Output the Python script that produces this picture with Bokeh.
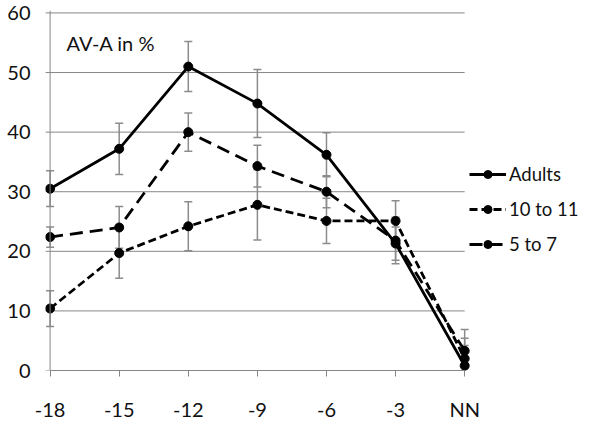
from bokeh.plotting import figure
from bokeh.models import (Range1d, FixedTicker, Whisker, TeeHead, ColumnDataSource,
                          Legend, LegendItem, Span, Label)
from bokeh.embed import file_html
from bokeh.resources import INLINE

# ---- data ----
categories = ["-18", "-15", "-12", "-9", "-6", "-3", "NN"]
adults = [30.5, 37.2, 51.0, 44.8, 36.2, 21.3, 0.8]
adults_err = [3.0, 4.3, 4.2, 5.7, 3.7, 2.8, 3.4]
age10_11 = [10.4, 19.7, 24.2, 27.8, 25.1, 25.1, 2.0]
age10_11_err = [3.0, 4.2, 4.1, 5.9, 3.8, 3.4, 3.4]
age5_7 = [22.4, 24.0, 40.0, 34.3, 30.0, 21.8, 3.3]
age5_7_err = [1.7, 3.5, 3.2, 3.5, 2.7, 3.9, 3.6]
y_ticks = [0, 10, 20, 30, 40, 50, 60]
title_text = "AV-A in %"

FONT = "Lato"
GRID = "#878787"
ERR = "#8c8c8c"
TXT = "#111111"

xs = list(range(len(categories)))
last = xs[-1]

p = figure(width=588, height=423, output_backend="svg", toolbar_location=None,
           x_range=Range1d(-0.0666, 7.792), y_range=Range1d(0, 60.41),
           min_border_left=45, min_border_right=0, min_border_top=10,
           min_border_bottom=48)
p.outline_line_color = None
p.xgrid.visible = False
p.ygrid.visible = False

# horizontal gridlines (with a short outward tick on the left)
p.segment(x0=[-0.07] * len(y_ticks), x1=[last] * len(y_ticks), y0=y_ticks, y1=y_ticks,
          line_color=GRID, line_width=1)
# vertical axis line at the first category
p.add_layout(Span(location=xs[0], dimension="height", line_color=GRID, line_width=1))

# x axis
p.xaxis.ticker = FixedTicker(ticks=xs)
p.xaxis.major_label_overrides = {i: c for i, c in zip(xs, categories)}
p.xaxis.bounds = (xs[0], last)
p.xaxis.axis_line_color = GRID
p.xaxis.major_tick_line_color = GRID
p.xaxis.major_tick_out = 6
p.xaxis.major_tick_in = 0
p.xaxis.minor_tick_line_color = None
p.xaxis.major_label_standoff = 20
p.xaxis.major_label_text_font = FONT
p.xaxis.major_label_text_font_size = "20px"
p.xaxis.major_label_text_color = TXT

# y axis
p.yaxis.ticker = FixedTicker(ticks=y_ticks)
p.yaxis.axis_line_color = None
p.yaxis.major_tick_line_color = None
p.yaxis.major_tick_out = 0
p.yaxis.major_tick_in = 0
p.yaxis.minor_tick_line_color = None
p.yaxis.major_label_standoff = 15
p.yaxis.major_label_text_font = FONT
p.yaxis.major_label_text_font_size = "20px"
p.yaxis.major_label_text_color = TXT

series = [
    ("Adults", adults, adults_err, "solid"),
    ("10 to 11", age10_11, age10_11_err, "8 4"),
    ("5 to 7", age5_7, age5_7_err, "13 7"),
]

# error bars first
for name, vals, errs, dash in series:
    src = ColumnDataSource(dict(x=xs, upper=[v + e for v, e in zip(vals, errs)],
                                lower=[v - e for v, e in zip(vals, errs)]))
    w = Whisker(source=src, base="x", upper="upper", lower="lower",
                line_color=ERR, line_width=1.5,
                upper_head=TeeHead(size=8, line_color=ERR, line_width=1.5),
                lower_head=TeeHead(size=8, line_color=ERR, line_width=1.5))
    p.add_layout(w)

items = []
for name, vals, errs, dash in series:
    src = ColumnDataSource(dict(x=xs, y=vals))
    r1 = p.line("x", "y", source=src, line_color="black", line_width=2.8, line_dash=dash)
    p.scatter("x", "y", source=src, marker="circle", size=9,
              fill_color="black", line_color="black")
    # smaller marker (hidden under the big one) used for the legend swatch
    r_leg = p.scatter("x", "y", source=src, marker="circle", size=6,
                      fill_color="black", line_color="black")
    items.append(LegendItem(label=name, renderers=[r1, r_leg]))

legend = Legend(items=items, location=(424, 115), glyph_width=37, glyph_height=20,
                label_height=20, spacing=13, label_standoff=3, padding=0, margin=0,
                border_line_color=None, background_fill_alpha=0,
                label_text_font=FONT, label_text_font_size="18.5px",
                label_text_color=TXT)
p.add_layout(legend)

p.add_layout(Label(x=21, y=328, x_units="screen", y_units="screen", text=title_text,
                   text_font=FONT, text_font_size="20px", text_baseline="middle",
                   text_color=TXT))

open("out.html", "w").write(file_html(p, INLINE))
